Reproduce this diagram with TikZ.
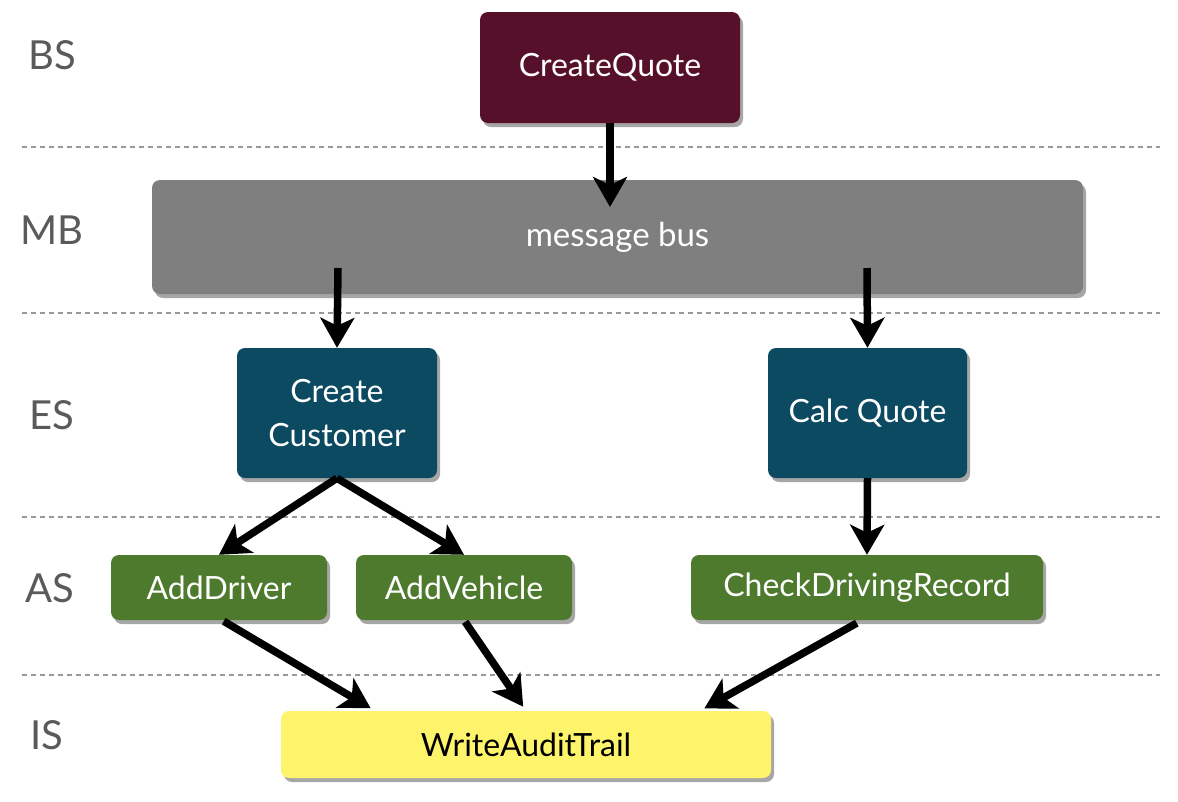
\documentclass[tikz,border=0pt]{standalone}
\usepackage{fontspec}
\setmainfont{Lato}
\usetikzlibrary{shadows,arrows.meta}
\definecolor{bsred}{HTML}{561029}
\definecolor{busgray}{HTML}{7F7F7F}
\definecolor{esteal}{HTML}{0C4A62}
\definecolor{asgreen}{HTML}{4E7A2E}
\definecolor{isyellow}{HTML}{FEF46C}
\definecolor{lblgray}{HTML}{5A5A5A}
\begin{document}
\begin{tikzpicture}[x=1pt,y=-1pt,
  box/.style={rounded corners=8pt, draw=none, text=white, align=center,
    drop shadow={shadow xshift=3pt, shadow yshift=-4pt, opacity=0.35, fill=black},
    font=\fontsize{32}{44}\selectfont, inner sep=0pt},
  lane/.style={draw=gray!80, line width=1.6pt, dash pattern=on 5pt off 4pt},
  lbl/.style={text=lblgray, font=\fontsize{40}{44}\selectfont, inner sep=0pt},
  arr/.style={line width=7.5pt, -{Stealth[length=30pt,width=34pt,inset=8pt]}}
]
\useasboundingbox (0,0) rectangle (1178,801);
\fill[white] (0,0) rectangle (1178,801);
% lanes
\draw[lane] (22,147) -- (1160,147);
\draw[lane] (22,313) -- (1160,313);
\draw[lane] (22,517) -- (1160,517);
\draw[lane] (22,675) -- (1160,675);
% labels
\node[lbl] (lbs) at (52,55) {BS};
\node[lbl] (lmb) at (52,230) {MB};
\node[lbl] (les) at (52,415) {ES};
\node[lbl] (las) at (50,588) {AS};
\node[lbl] (lis) at (47,735) {IS};
% boxes
\node[box, fill=bsred, minimum width=260pt, minimum height=111pt] (cq) at (610,67.5) {CreateQuote};
\node[box, fill=busgray, minimum width=931pt, minimum height=114pt, font=\fontsize{33}{40}\selectfont] (mb) at (617.5,237) {message bus};
\node[box, fill=esteal, minimum width=200pt, minimum height=130pt] (cc) at (337,413) {Create\\Customer};
\node[box, fill=esteal, minimum width=199pt, minimum height=130pt] (cqt) at (867.5,413) {Calc Quote};
\node[box, fill=asgreen, minimum width=216pt, minimum height=65pt] (ad) at (219,587.5) {AddDriver};
\node[box, fill=asgreen, minimum width=216pt, minimum height=65pt] (av) at (464,587.5) {AddVehicle};
\node[box, fill=asgreen, minimum width=352pt, minimum height=65pt] (cdr) at (867,587.5) {CheckDrivingRecord};
\node[box, fill=isyellow, text=black, minimum width=490pt, minimum height=67pt] (wat) at (526,744.5) {WriteAuditTrail};
% coordinates
\coordinate (busin) at (610,207);
\coordinate (bus1) at (338,268);
\coordinate (bus2) at (867,268);
% arrows
\draw[arr] (cq.south) -- (busin);
\draw[arr] (bus1) -- (cc.north);
\draw[arr] (bus2) -- (cqt.north);
\draw[arr] (cc.south) -- (ad.north);
\draw[arr] (cc.south) -- (av.north);
\draw[arr] (cqt.south) -- (cdr.north);
\draw[arr, shorten <=2pt, shorten >=5pt] ([xshift=3pt]ad.south) -- ([xshift=-151pt]wat.north);
\draw[arr, shorten <=2pt, shorten >=5pt] (av.south) -- ([xshift=0pt]wat.north);
\draw[arr, shorten <=6pt, shorten >=5pt] ([xshift=-5pt]cdr.south) -- ([xshift=174pt]wat.north);
\end{tikzpicture}
\end{document}
